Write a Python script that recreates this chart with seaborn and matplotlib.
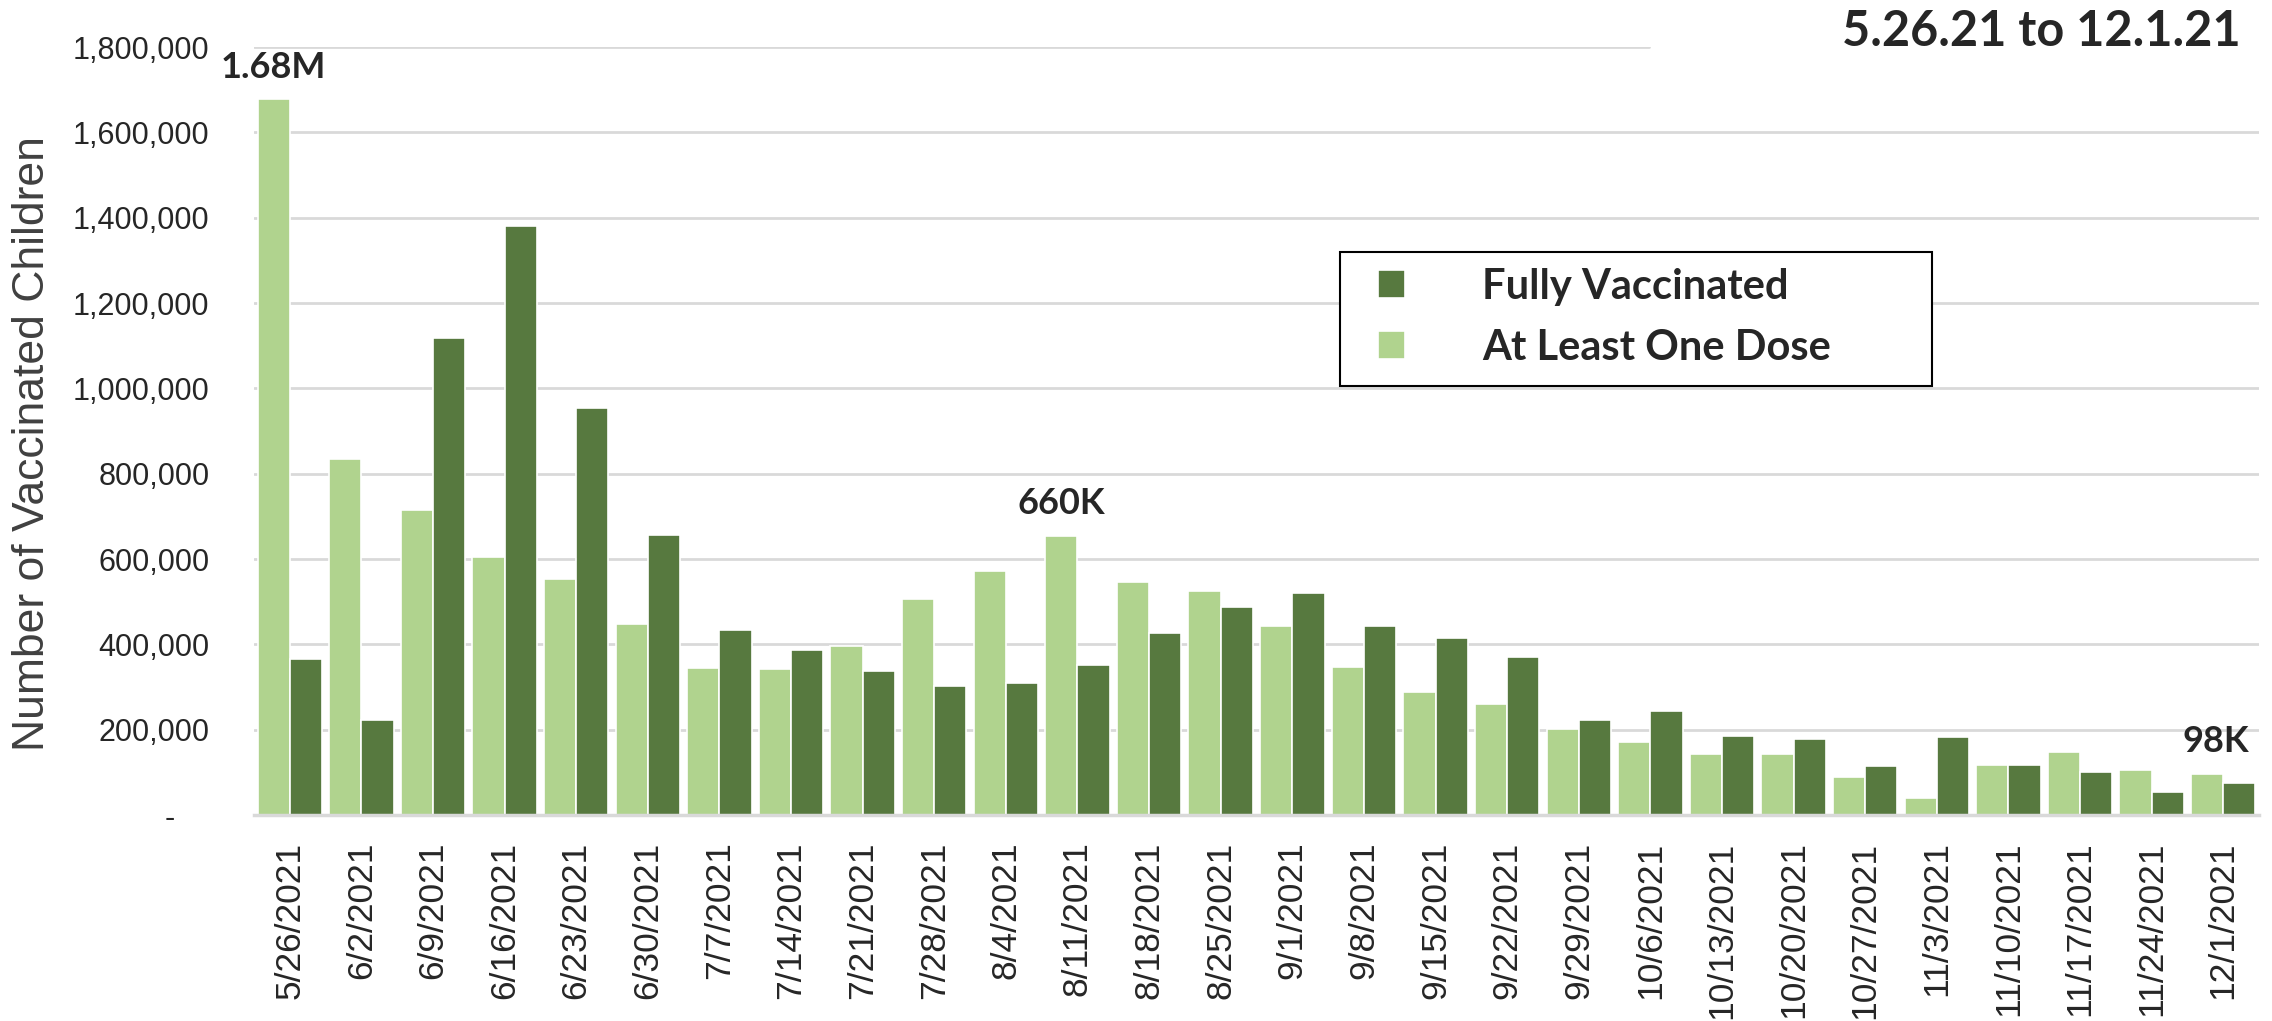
import matplotlib
matplotlib.use("Agg")
import matplotlib.pyplot as plt
import matplotlib.patches as mpatches
from matplotlib import font_manager
from matplotlib.ticker import FixedLocator, FixedFormatter
import pandas as pd
import seaborn as sns

dates = [
    "5/26/2021", "6/2/2021", "6/9/2021", "6/16/2021", "6/23/2021", "6/30/2021",
    "7/7/2021", "7/14/2021", "7/21/2021", "7/28/2021", "8/4/2021", "8/11/2021",
    "8/18/2021", "8/25/2021", "9/1/2021", "9/8/2021", "9/15/2021", "9/22/2021",
    "9/29/2021", "10/6/2021", "10/13/2021", "10/20/2021", "10/27/2021",
    "11/3/2021", "11/10/2021", "11/17/2021", "11/24/2021", "12/1/2021",
]
at_least_one_dose = [
    1677000, 835000, 716000, 605000, 554000, 447000, 345000, 343000, 395000,
    506000, 573000, 655000, 547000, 525000, 444000, 348000, 289000, 260000,
    201000, 170000, 143000, 144000, 90000, 40000, 117000, 147000, 106000, 97000,
]
fully_vaccinated = [
    366000, 222000, 1117000, 1380000, 955000, 656000, 434000, 387000, 338000,
    303000, 309000, 352000, 426000, 487000, 520000, 444000, 415000, 370000,
    223000, 244000, 185000, 179000, 115000, 182000, 117000, 100000, 54000, 76000,
]
series_names = ["At Least One Dose", "Fully Vaccinated"]
y_ticks = [0, 200000, 400000, 600000, 800000, 1000000, 1200000, 1400000, 1600000, 1800000]
y_tick_labels = ["-    ", "200,000", "400,000", "600,000", "800,000", "1,000,000",
                 "1,200,000", "1,400,000", "1,600,000", "1,800,000"]
callouts = [(0, "1.68M"), (11, "660K"), (27, "98K")]
title = "5.26.21 to 12.1.21"

LIGHT = "#B0DE82"
DARK = "#558335"
GRID = "#D9D9D9"

df = pd.DataFrame({
    "date": dates * 2,
    "series": [series_names[0]] * len(dates) + [series_names[1]] * len(dates),
    "value": at_least_one_dose + fully_vaccinated,
})

installed = {f.name for f in font_manager.fontManager.ttflist}
narrow = "Liberation Sans Narrow" if "Liberation Sans Narrow" in installed else "Liberation Sans"
ytick_size = 27 if narrow == "Liberation Sans Narrow" else 22
bold_font = "Lato"

sns.set_style("white")
plt.rcParams["font.family"] = ["Liberation Sans", "DejaVu Sans"]

fig = plt.figure(figsize=(22.72, 10.21), dpi=100)
W, H = 2272, 1021
ax = fig.add_axes([254 / W, 1 - 815 / H, (2259 - 254) / W, (815 - 47) / H])

sns.barplot(
    data=df, x="date", y="value", hue="series", hue_order=series_names,
    palette=[LIGHT, DARK], width=0.9, gap=0, edgecolor="white", linewidth=1.2,
    ax=ax, zorder=2,
)

ax.set_xlim(-0.5, len(dates) - 0.5)
ax.set_ylim(0, 1800000)
ax.yaxis.set_major_locator(FixedLocator(y_ticks))
ax.yaxis.set_major_formatter(FixedFormatter(y_tick_labels))
for lab in ax.get_yticklabels():
    lab.set_family([narrow, "DejaVu Sans"])
    lab.set_fontsize(ytick_size)
ax.tick_params(axis="y", length=0, pad=32)
ax.tick_params(axis="x", length=0, pad=19, labelsize=25.5, rotation=90)
ax.set_xlabel("")
ax.set_ylabel("")

# gridlines; the top one is cut short by the title area
for v in y_ticks[1:-1]:
    ax.axhline(v, color=GRID, linewidth=2, zorder=0)
ax.axhline(y_ticks[-1], xmin=0, xmax=0.696, color=GRID, linewidth=2, zorder=0)
for s in ["top", "right", "left"]:
    ax.spines[s].set_visible(False)
ax.spines["bottom"].set_color(GRID)
ax.spines["bottom"].set_linewidth(2.5)

# callouts above selected bars
for idx, text in callouts:
    xoff = -0.225 if idx != len(dates) - 1 else -0.1
    ax.annotate(text, (idx + xoff, at_least_one_dose[idx]), xytext=(0, 11),
                textcoords="offset points", ha="center", va="bottom",
                fontsize=26, fontweight="bold", family=[bold_font, "DejaVu Sans"])

# legend: dark first, light second
handles, labels = ax.get_legend_handles_labels()
if ax.legend_:
    ax.legend_.remove()
order = [labels.index("Fully Vaccinated"), labels.index("At Least One Dose")]
leg = fig.legend(
    [handles[i] for i in order], [labels[i] for i in order],
    loc="upper left", bbox_to_anchor=(1378 / W, 1 - 268 / H),
    frameon=False, borderpad=0, borderaxespad=0,
    handlelength=0.65, handleheight=0.65, handletextpad=1.85, labelspacing=0.55,
    prop={"family": [bold_font, "DejaVu Sans"], "weight": "bold", "size": 30},
)
fig.patches.append(mpatches.Rectangle(
    (1340 / W, 1 - 386 / H), (1932 - 1340) / W, (386 - 252) / H,
    transform=fig.transFigure, facecolor="white", edgecolor="black",
    linewidth=1.5, zorder=1,
))
leg.set_zorder(5)

fig.text(2241 / W, 1 - 9 / H, title, ha="right", va="top", fontsize=35,
         fontweight="bold", family=[bold_font, "DejaVu Sans"])
fig.text(33 / W, 1 - 444 / H, "Number of Vaccinated Children", rotation=90,
         ha="center", va="center", fontsize=32, color="#404040")

fig.savefig("out.png", dpi=100)
